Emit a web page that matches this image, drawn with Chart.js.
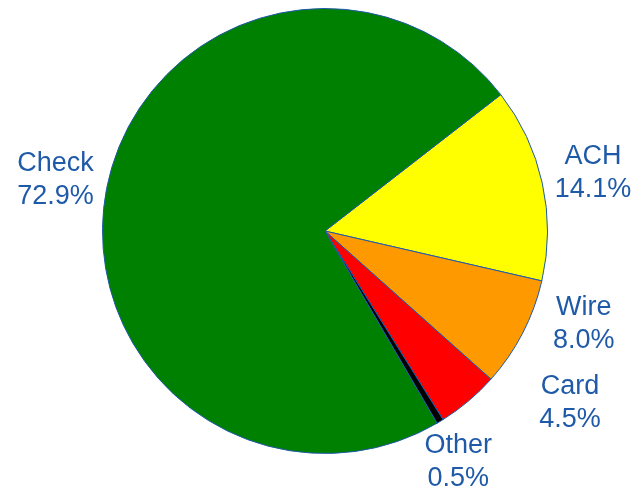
<!DOCTYPE html>
<html>
<head>
<meta charset="utf-8">
<script src="https://cdn.jsdelivr.net/npm/chart.js@4/dist/chart.umd.min.js"></script>
<style>
  body { margin: 0; background: #fff; }
</style>
</head>
<body>
<canvas id="myChart" width="636" height="492"></canvas>
<script>
// Payment types, clockwise from the green/yellow edge
let categories = ['ACH', 'Wire', 'Card', 'Other', 'Check'];
let shares = [14.1, 8.0, 4.5, 0.5, 72.9];
let sliceColors = ['#ffff00', '#ff9900', '#ff0000', '#000000', '#008000'];

// label nudges (distance past rim, extra angle in degrees)
let labelPush = [52, 52, 76, 43, 52];
let labelTurn = [0, -7.8, -15, 1, 0];

// Draws "name / pct%" next to each slice
let sliceLabels = {
  id: 'sliceLabels',
  afterDraw: function(chart) {
    let ctx = chart.ctx;
    let arcs = chart.getDatasetMeta(0).data;
    ctx.save();
    ctx.font = '27px "Liberation Sans", Arial, sans-serif';
    ctx.fillStyle = '#1f5aa8';
    ctx.textAlign = 'center';
    ctx.textBaseline = 'middle';
    arcs.forEach(function(arc, i) {
      let p = arc.getProps(['x', 'y', 'startAngle', 'endAngle', 'outerRadius'], true);
      let mid = (p.startAngle + p.endAngle) / 2 + labelTurn[i] * Math.PI / 180;
      let r = p.outerRadius + labelPush[i];
      let lx = p.x + Math.cos(mid) * r;
      let ly = p.y + Math.sin(mid) * r + 2;
      ctx.fillText(categories[i], lx, ly - 17);
      ctx.fillText(shares[i].toFixed(1) + '%', lx, ly + 16);
    });
    ctx.restore();
  }
};

let ctx = document.getElementById('myChart');
let myChart = new Chart(ctx, {
  type: 'pie',
  data: {
    labels: categories,
    datasets: [{
      data: shares,
      backgroundColor: sliceColors,
      borderColor: '#1f5aa8',
      borderWidth: 1
    }]
  },
  options: {
    responsive: false,
    animation: false,
    rotation: 52.2,
    layout: { padding: { top: 8, bottom: 38, left: 102, right: 88 } },
    plugins: {
      legend: { display: false },
      tooltip: { enabled: false }
    }
  },
  plugins: [sliceLabels]
});
</script>
</body>
</html>
